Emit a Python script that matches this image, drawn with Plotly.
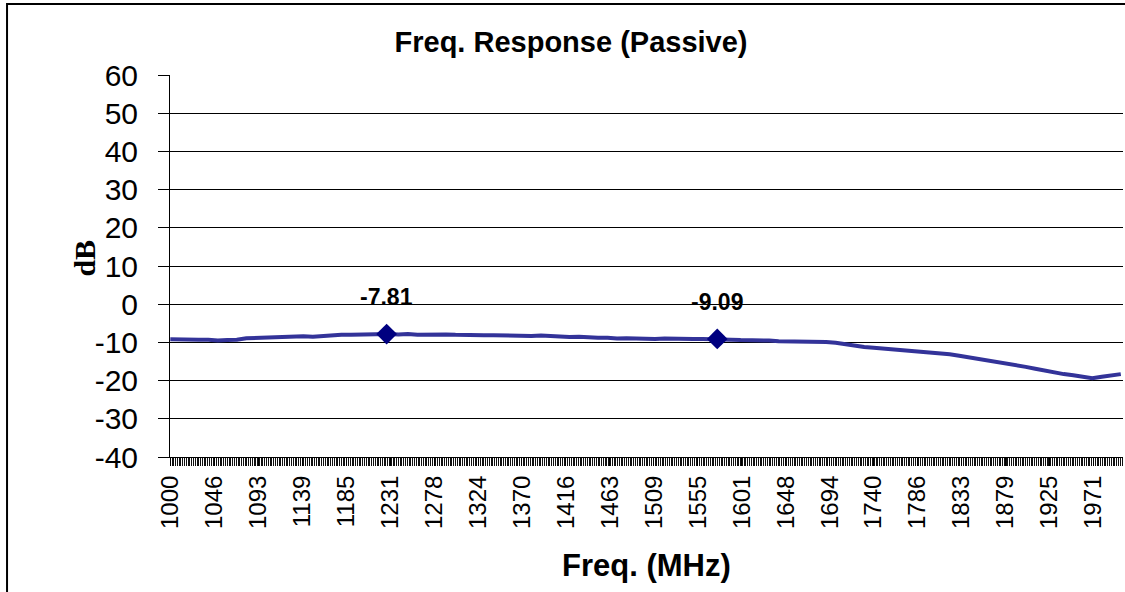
import plotly.graph_objects as go

# Sweep data (every 10 MHz)
freq_mhz = list(range(1000, 2001, 10))
gain_db = [
    -9.2, -9.3, -9.2, -9.3, -9.3, -9.5, -9.4, -9.3, -8.9, -8.8,
    -8.8, -8.7, -8.6, -8.6, -8.4, -8.5, -8.3, -8.2, -8.0, -8.0,
    -7.9, -7.9, -7.8, -7.8, -7.9, -7.8, -8.0, -7.9, -8.0, -7.9,
    -8.0, -8.1, -8.0, -8.1, -8.1, -8.2, -8.2, -8.3, -8.3, -8.2,
    -8.4, -8.5, -8.6, -8.5, -8.7, -8.8, -8.8, -9.0, -8.9, -9.0,
    -9.0, -9.1, -9.0, -9.1, -9.0, -9.1, -9.1, -9.1, -9.1, -9.3,
    -9.4, -9.4, -9.6, -9.5, -9.7, -9.7, -9.8, -9.8, -9.9, -9.9,
    -10.1, -10.5, -10.9, -11.2, -11.4, -11.6, -11.8, -11.9, -12.1, -12.3,
    -12.5, -12.8, -13.1, -13.5, -13.9, -14.2, -14.6, -15.0, -15.5, -15.9,
    -16.4, -16.9, -17.4, -17.8, -18.3, -18.6, -18.9, -19.4, -19.0, -18.7,
    -18.3,
]

# Highlighted points (GPS L2 / L1)
mark_freq = [1227.6, 1575.42]
mark_db = [-7.81, -9.09]

# Category labels shown on the x axis
tick_freq = [1000, 1046.25, 1092.5, 1138.75, 1185, 1231.25, 1277.5, 1323.75,
             1370, 1416.25, 1462.5, 1508.75, 1555, 1601.25, 1647.5, 1693.75,
             1740, 1786.25, 1832.5, 1878.75, 1925, 1971.25]
tick_text = ["1000", "1046", "1093", "1139", "1185", "1231", "1278", "1324",
             "1370", "1416", "1463", "1509", "1555", "1601", "1648", "1694",
             "1740", "1786", "1833", "1879", "1925", "1971"]

y_ticks = [60, 50, 40, 30, 20, 10, 0, -10, -20, -30, -40]

_LINE = "#333399"
_NAVY = "#000080"
_FONT = "Arial, Liberation Sans, sans-serif"

fig = go.Figure()

fig.add_trace(go.Scatter(
    x=freq_mhz,
    y=gain_db,
    mode="lines",
    line=dict(color=_LINE, width=4),
    showlegend=False,
))

fig.add_trace(go.Scatter(
    x=mark_freq,
    y=mark_db,
    mode="markers",
    marker=dict(symbol="diamond", size=16, color=_NAVY),
    showlegend=False,
))

for fx, fy in zip(mark_freq, mark_db):
    fig.add_annotation(
        x=fx, y=fy, text=f"<b>{fy:.2f}</b>", showarrow=False,
        yshift=37, font=dict(family=_FONT, size=23, color="black"),
    )

# axis title, y label and chart border
fig.add_annotation(
    xref="paper", yref="paper", x=0.5, y=-0.285, yanchor="middle",
    text="<b>Freq. (MHz)</b>", showarrow=False,
    font=dict(family=_FONT, size=31, color="black"),
)
fig.add_annotation(
    xref="paper", yref="paper", x=-0.109, y=0.521, textangle=-90,
    text="<b>dB</b>", showarrow=False,
    font=dict(family="Times New Roman, Liberation Serif, serif", size=30, color="black"),
)
fig.add_shape(
    type="rect", xref="paper", yref="paper",
    x0=-0.171, x1=1.1, y0=-0.4, y1=1.186,
    line=dict(color="black", width=2),
)

fig.update_layout(
    title=dict(
        text="<b>Freq. Response (Passive)</b>",
        font=dict(family=_FONT, size=29, color="black"),
        xref="paper", x=0.4208, xanchor="center",
        yref="container", y=0.929, yanchor="middle",
    ),
    plot_bgcolor="white",
    paper_bgcolor="white",
    font=dict(family=_FONT, color="black"),
    margin=dict(l=170, r=2, t=75, b=135),
    width=1125,
    height=592,
)

fig.update_xaxes(
    range=[999.7, 2002.3],
    tickmode="array",
    tickvals=tick_freq,
    ticktext=tick_text,
    tickangle=-90,
    tickfont=dict(size=24),
    ticks="outside", ticklen=8, tickcolor="black",
    showgrid=False, zeroline=False, automargin=False,
    showline=True, linecolor="black", linewidth=1,
    minor=dict(tickmode="linear", tick0=1000, dtick=1.875, ticks="outside",
               ticklen=8, tickcolor="#111111", tickwidth=1, showgrid=False),
)
fig.update_yaxes(
    range=[-40, 60],
    tickmode="array",
    tickvals=y_ticks,
    ticktext=[str(v) for v in y_ticks],
    tickfont=dict(size=30),
    ticks="outside", ticklen=11, tickcolor="black",
    ticklabelstandoff=14,
    showgrid=True, gridcolor="black", gridwidth=1,
    zeroline=False, automargin=False,
    showline=True, linecolor="black", linewidth=1,
)

fig.write_html(
    "out.html",
    config={"displayModeBar": False},
    post_script="document.body.style.margin='0';",
)
